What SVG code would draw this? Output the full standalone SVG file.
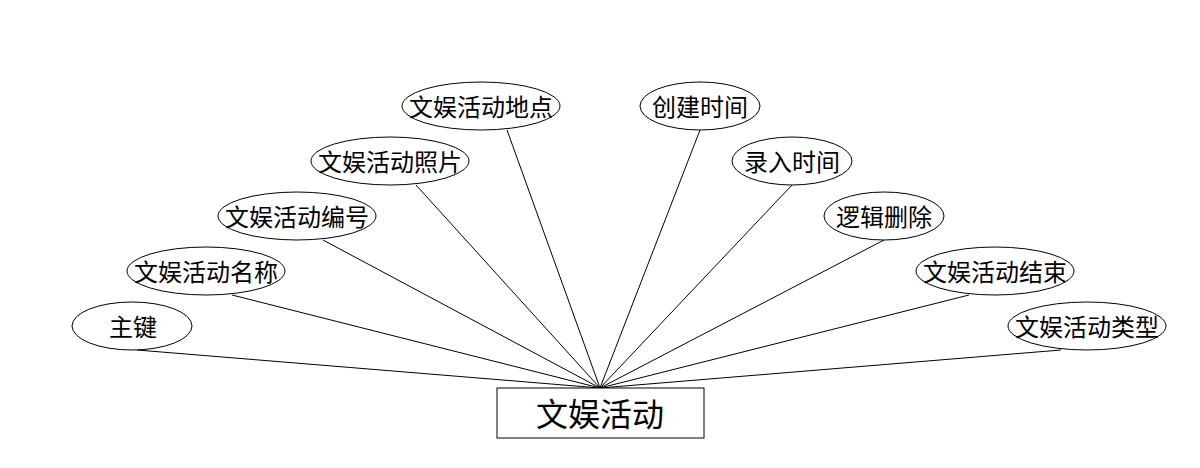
<svg xmlns="http://www.w3.org/2000/svg" width="1200" height="468" viewBox="0 0 1200 468">
<style>
.e{fill:#fff;stroke:#000;stroke-width:1}
.t{font-family:"Noto Sans CJK SC","Liberation Sans",sans-serif;font-size:24px;fill:#000;text-anchor:middle;dominant-baseline:central}
.m{font-size:32px}
.c line{stroke:#000;stroke-width:1}
</style>
<rect width="1200" height="468" fill="#fff"/>
<g class="c" id="connectors">
<line x1="137" y1="350" x2="600" y2="388"/>
<line x1="232" y1="295" x2="600" y2="388"/>
<line x1="323" y1="240" x2="600" y2="388"/>
<line x1="416" y1="185" x2="600" y2="388"/>
<line x1="507" y1="130" x2="600" y2="388"/>
<line x1="700" y1="130" x2="600" y2="388"/>
<line x1="792" y1="185" x2="600" y2="388"/>
<line x1="884" y1="240" x2="600" y2="388"/>
<line x1="969" y1="295" x2="600" y2="388"/>
<line x1="1061" y1="350" x2="600" y2="388"/>
</g>
<g id="main"><rect x="497" y="388" width="207" height="50" class="e"/><text x="600" y="412" class="t m">文娱活动</text></g>
<g id="a1"><ellipse cx="132" cy="326" rx="60" ry="24" class="e"/><text x="133" y="325" class="t">主键</text></g>
<g id="a2"><ellipse cx="206" cy="271" rx="79" ry="24" class="e"/><text x="206" y="270" class="t">文娱活动名称</text></g>
<g id="a3"><ellipse cx="297" cy="216" rx="79" ry="24" class="e"/><text x="297" y="215" class="t">文娱活动编号</text></g>
<g id="a4"><ellipse cx="390" cy="161" rx="79" ry="24" class="e"/><text x="390" y="160" class="t">文娱活动照片</text></g>
<g id="a5"><ellipse cx="481" cy="106" rx="79" ry="24" class="e"/><text x="481" y="105" class="t">文娱活动地点</text></g>
<g id="a6"><ellipse cx="700" cy="106" rx="60" ry="24" class="e"/><text x="700" y="105" class="t">创建时间</text></g>
<g id="a7"><ellipse cx="792" cy="161" rx="60" ry="24" class="e"/><text x="792" y="160" class="t">录入时间</text></g>
<g id="a8"><ellipse cx="884" cy="216" rx="60" ry="24" class="e"/><text x="884" y="215" class="t">逻辑删除</text></g>
<g id="a9"><ellipse cx="995" cy="271" rx="79" ry="24" class="e"/><text x="995" y="270" class="t">文娱活动结束</text></g>
<g id="a10"><ellipse cx="1087" cy="326" rx="79" ry="24" class="e"/><text x="1087" y="325" class="t">文娱活动类型</text></g>
</svg>
